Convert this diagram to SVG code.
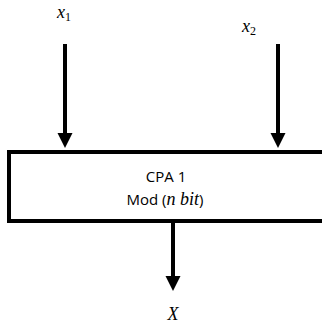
<svg xmlns="http://www.w3.org/2000/svg" width="322" height="327" viewBox="0 0 322 327">
<style>
.ln{stroke:#000;stroke-width:4;fill:none}
.lbl{font-family:"Open Sans","Liberation Sans",sans-serif;font-size:15px;fill:#000}
.m{font-family:"Liberation Serif","DejaVu Serif",serif;font-style:italic;font-size:18px;fill:#000}
.sub{font-family:"Liberation Serif","DejaVu Serif",serif;font-style:normal;font-size:12px;fill:#000}
</style>
<g id="x1">
<text x="57" y="18" class="m">x<tspan class="sub" dy="3">1</tspan></text>
</g>
<g id="x2">
<text x="242" y="32" class="m">x<tspan class="sub" dy="3">2</tspan></text>
</g>
<g id="cpa">
<rect x="9" y="152" width="330" height="69" class="ln"/>
<text x="166" y="182" text-anchor="middle" class="lbl">CPA 1</text>
<text x="165" y="205" text-anchor="middle" class="lbl">Mod (<tspan class="m" font-size="17">n bit</tspan>)</text>
</g>
<g id="X">
<text x="173" y="320" text-anchor="middle" class="m">X</text>
</g>
<g id="connectors">
<line x1="65" y1="44" x2="65" y2="134" class="ln"/>
<path d="M57.5,133 L72.5,133 L65,148 Z"/>
<line x1="278" y1="44" x2="278" y2="134" class="ln"/>
<path d="M270.5,133 L285.5,133 L278,148 Z"/>
<line x1="173" y1="221" x2="173" y2="277" class="ln"/>
<path d="M165.5,276 L180.5,276 L173,291 Z"/>
</g>
</svg>
